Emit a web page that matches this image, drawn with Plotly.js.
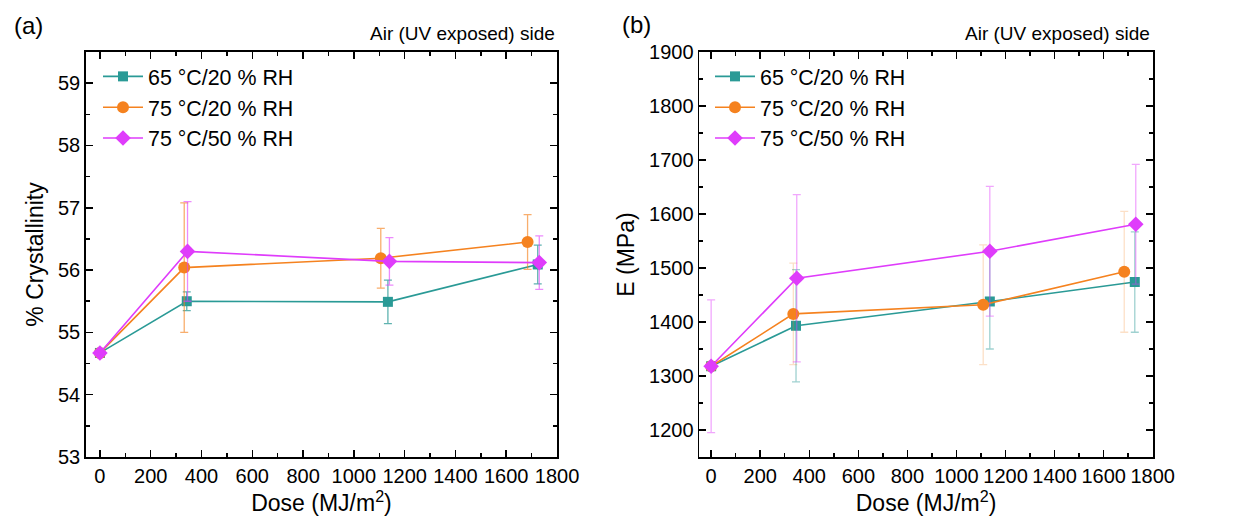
<!DOCTYPE html>
<html>
<head>
<meta charset="utf-8">
<script src="https://cdn.plot.ly/plotly-3.0.1.min.js"></script>
<style>
  html, body { margin: 0; padding: 0; background: #fff; }
  #chart { width: 1242px; height: 523px; }
</style>
</head>
<body>
<div id="chart"></div>
<script>
// Series names
const seriesNames = ['65 °C/20 % RH', '75 °C/20 % RH', '75 °C/50 % RH'];

// (a) crystallinity vs dose
const doseCryst65_20 = [0, 342, 1134, 1724];
const cryst65_20     = [54.67, 55.50, 55.49, 56.09];
const crystErr65_20  = [0, 0.15, 0.35, 0.31];

const doseCryst75_20 = [0, 332, 1106, 1684];
const cryst75_20     = [54.67, 56.04, 56.19, 56.45];
const crystErr75_20  = [0, 1.04, 0.48, 0.44];

const doseCryst75_50 = [0, 345, 1140, 1730];
const cryst75_50     = [54.67, 56.30, 56.14, 56.12];
const crystErr75_50  = [0, 0.80, 0.38, 0.43];

// (b) modulus vs dose
const doseE65_20 = [0, 346, 1136, 1727];
const modE65_20  = [1318, 1393, 1438, 1474];
const modErr65_20 = [0, 104, 88, 93];

const doseE75_20 = [0, 335, 1109, 1684];
const modE75_20  = [1318, 1415, 1432, 1493];
const modErr75_20 = [0, 94, 111, 112];

const doseE75_50 = [0, 349, 1136, 1731];
const modE75_50  = [1318, 1481, 1531, 1581];
const modErr75_50 = [123, 155, 120, 111];

const xTickVals = [0, 200, 400, 600, 800, 1000, 1200, 1400, 1600, 1800];

const colors = ['#2a9a96', '#f5821f', '#df3cfb'];
const errColorsA = ['rgba(42,154,150,0.75)', 'rgba(245,130,31,0.65)', 'rgba(223,60,251,0.6)'];
const errColorsB = ['rgba(42,154,150,0.45)', 'rgba(245,130,31,0.25)', 'rgba(223,60,251,0.45)'];
const symbols = ['square', 'circle', 'diamond'];
const sizes = [10, 12, 12];

function trace(x, y, err, i, xa, ya, legend, errCol) {
  return {
    type: 'scatter', mode: 'lines+markers',
    x: x, y: y, name: seriesNames[i],
    xaxis: xa, yaxis: ya, legend: legend,
    line: { color: colors[i], width: 1.6 },
    marker: { color: colors[i], symbol: symbols[i], size: sizes[i] },
    error_y: { type: 'data', array: err, visible: true, color: errCol[i], thickness: 1.3, width: 4 }
  };
}

const data = [
  trace(doseCryst65_20, cryst65_20, crystErr65_20, 0, 'x', 'y', 'legend', errColorsA),
  trace(doseCryst75_20, cryst75_20, crystErr75_20, 1, 'x', 'y', 'legend', errColorsA),
  trace(doseCryst75_50, cryst75_50, crystErr75_50, 2, 'x', 'y', 'legend', errColorsA),
  trace(doseE65_20, modE65_20, modErr65_20, 0, 'x2', 'y2', 'legend2', errColorsB),
  trace(doseE75_20, modE75_20, modErr75_20, 1, 'x2', 'y2', 'legend2', errColorsB),
  trace(doseE75_50, modE75_50, modErr75_50, 2, 'x2', 'y2', 'legend2', errColorsB)
];

const fontFamily = '"Liberation Sans", Arial, sans-serif';
const W = 1242, H = 523;

function xAxis(domain, range, anchor) {
  return {
    domain: domain, range: range, anchor: anchor,
    tickvals: xTickVals, ticks: 'inside', ticklen: 7, tickwidth: 1.5, tickcolor: '#000',
    minor: { ticks: 'inside', ticklen: 4, tickwidth: 1.5, tickcolor: '#000', dtick: 100 },
    showline: true, linecolor: '#000', linewidth: 1.8, mirror: 'ticks',
    showgrid: false, zeroline: false,
    tickfont: { family: fontFamily, size: 20, color: '#000' },
    title: { text: 'Dose (MJ/m<sup>2</sup>)', font: { family: fontFamily, size: 23, color: '#000' }, standoff: 5 }
  };
}

function yAxis(domain, range, anchor, dtick, minorDtick, titleText) {
  return {
    domain: domain, range: range, anchor: anchor,
    dtick: dtick, tick0: 0, ticks: 'inside', ticklen: 7, tickwidth: 1.5, tickcolor: '#000',
    minor: { ticks: 'inside', ticklen: 4, tickwidth: 1.5, tickcolor: '#000', dtick: minorDtick },
    showline: true, linecolor: '#000', linewidth: 1.8, mirror: 'ticks',
    showgrid: false, zeroline: false,
    tickfont: { family: fontFamily, size: 20, color: '#000' },
    title: { text: titleText, font: { family: fontFamily, size: 23, color: '#000' }, standoff: 8 }
  };
}

const yDom = [0.1262, 0.9006];

function legendAt(px) {
  return {
    x: px / W, y: 0.893, xanchor: 'left', yanchor: 'top',
    bgcolor: 'rgba(0,0,0,0)', font: { family: fontFamily, size: 21.4, color: '#000' },
    tracegroupgap: 0, itemwidth: 40
  };
}

function note(text, px, py, size, xanchor) {
  return {
    text: text, x: px / W, y: 1 - py / H, xref: 'paper', yref: 'paper',
    xanchor: xanchor, yanchor: 'middle', showarrow: false,
    font: { family: fontFamily, size: size, color: '#000' }
  };
}

const layout = {
  width: W, height: H,
  margin: { l: 0, r: 0, t: 0, b: 0 },
  paper_bgcolor: '#fff', plot_bgcolor: '#fff',
  font: { family: fontFamily, color: '#000' },
  showlegend: true,
  xaxis: xAxis([0.0692, 0.4485], [-55, 1800], 'y'),
  yaxis: yAxis(yDom, [53, 59.5], 'x', 1, 0.5, '% Crystallinity'),
  xaxis2: xAxis([0.5631, 0.9281], [-48, 1800], 'y2'),
  yaxis2: yAxis(yDom, [1150, 1900], 'x2', 100, 50, 'E (MPa)'),
  legend: legendAt(98),
  legend2: legendAt(710),
  annotations: [
    note('(a)', 28, 25, 24, 'center'),
    note('(b)', 636, 24, 24, 'center'),
    note('Air (UV exposed) side', 557, 33, 19, 'right'),
    note('Air (UV exposed) side', 1152, 33, 19, 'right')
  ]
};

Plotly.newPlot('chart', data, layout, { displayModeBar: false, staticPlot: true });
</script>
</body>
</html>
